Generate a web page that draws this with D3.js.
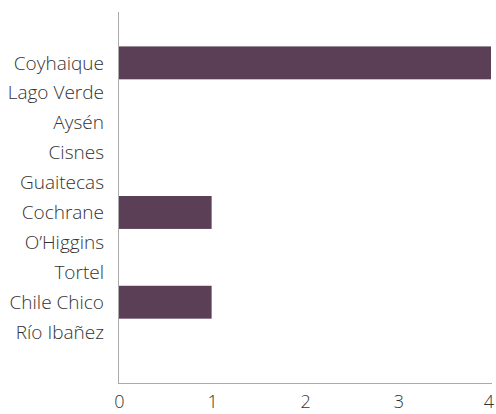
<!DOCTYPE html>
<html><head><meta charset="utf-8">
<script src="https://cdn.jsdelivr.net/npm/d3@7/dist/d3.min.js"></script>
<style>body{margin:0;background:#fff}</style>
</head><body>
<script>
const categories = ["Coyhaique","Lago Verde","Aysén","Cisnes","Guaitecas","Cochrane","O’Higgins","Tortel","Chile Chico","Río Ibañez"];
const values = [4,0,0,0,0,1,0,0,1,0];
const xTicks = [0,1,2,3,4];

const W=496,H=414;
const svg=d3.select("body").append("svg").attr("width",W).attr("height",H);
const x=d3.scaleLinear().domain([0,4]).range([118.5,491]);
const y=d3.scaleBand().domain(categories).range([12,383]).paddingInner(0).paddingOuter(1.2);
const barH=y.step()*1.1;
const font="'Open Sans', sans-serif";

svg.selectAll("rect.bar").data(categories).join("rect")
  .attr("x",x(0)).attr("y",d=>y(d)+y.bandwidth()/2-barH/2)
  .attr("width",(d,i)=>x(values[i])-x(0)).attr("height",barH)
  .attr("fill","#5b3f56");

svg.append("line").attr("x1",118.5).attr("x2",118.5).attr("y1",12).attr("y2",383.5)
  .attr("stroke","#aaa").attr("stroke-width",1);
svg.append("line").attr("x1",118).attr("x2",492).attr("y1",383.5).attr("y2",383.5)
  .attr("stroke","#aaa").attr("stroke-width",1);

svg.selectAll("text.cat").data(categories).join("text")
  .attr("x",104).attr("y",d=>y(d)+y.bandwidth()/2).attr("dy","0.35em")
  .attr("text-anchor","end").attr("font-family",font).attr("font-size",19)
  .attr("font-weight",300)
  .attr("fill","#333").text(d=>d);

svg.selectAll("text.tick").data(xTicks).join("text")
  .attr("x",(d,i)=>x(d)+1-(i===xTicks.length-1?3:0)).attr("y",408)
  .attr("text-anchor","middle").attr("font-family",font).attr("font-size",18)
  .attr("font-weight",300)
  .attr("fill","#333").text(d=>d);
</script>
</body></html>
